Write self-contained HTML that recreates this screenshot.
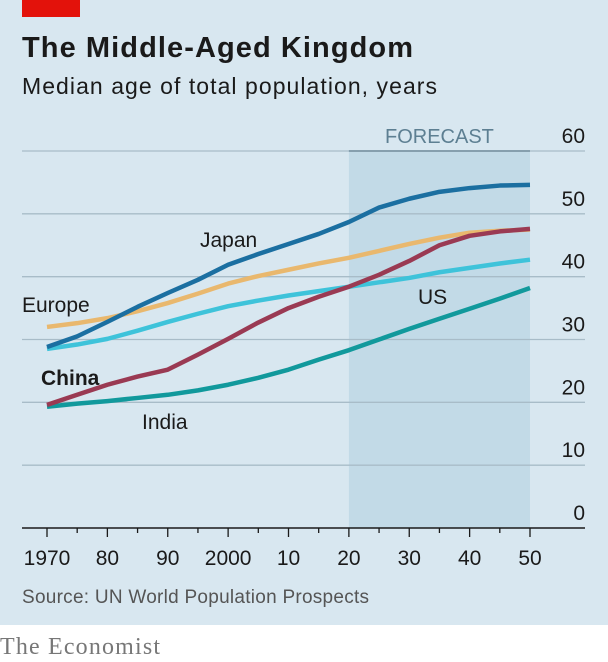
<!DOCTYPE html>
<html><head><meta charset="utf-8"><style>
body{margin:0;width:608px;height:662px;background:#fff;overflow:hidden;font-family:"Liberation Sans",sans-serif}
#bg{position:absolute;left:0;top:0;width:608px;height:625px;background:#d8e7f0}
</style></head><body>
<div id="bg"></div>
<svg id="c" width="608" height="662" style="position:absolute;left:0;top:0">
<rect x="22" y="0" width="58" height="17" fill="#e3120b"/>
<text x="22" y="57" font-size="29" font-weight="bold" fill="#1a1a1a" textLength="391">The Middle-Aged Kingdom</text>
<text x="22" y="94" font-size="23" fill="#1a1a1a" textLength="415">Median age of total population, years</text>
<text x="22" y="603" font-size="19" fill="#555" textLength="347">Source: UN World Population Prospects</text>
<text x="0" y="654" font-size="24" fill="#777" font-family="Liberation Serif,serif" textLength="160">The Economist</text>
<g id="g"></g>
</svg>
<script>
const years=[1970,1975,1980,1985,1990,1995,2000,2005,2010,2015,2020,2025,2030,2035,2040,2045,2050];
const japan=[28.8,30.5,32.8,35.2,37.4,39.5,41.9,43.6,45.2,46.8,48.7,51,52.4,53.5,54.1,54.5,54.6];
const europe=[32,32.6,33.4,34.5,35.8,37.3,38.9,40.1,41.1,42.1,43,44.1,45.2,46.2,47,47.3,47.5];
const us=[28.5,29.2,30.1,31.4,32.8,34.1,35.3,36.2,37,37.7,38.4,39.1,39.8,40.7,41.4,42.1,42.7];
const china=[19.6,21.2,22.8,24.1,25.2,27.6,30.1,32.7,35,36.8,38.4,40.3,42.5,45,46.5,47.2,47.6];
const india=[19.3,19.8,20.2,20.7,21.2,21.9,22.8,23.9,25.2,26.8,28.3,30,31.7,33.3,34.9,36.5,38.2];
const yTicks=[0,10,20,30,40,50,60];
const xTicks=[1970,1980,1990,2000,2010,2020,2030,2040,2050];
const xLabels=["1970","80","90","2000","10","20","30","40","50"];
const ns="http://www.w3.org/2000/svg",g=document.getElementById('g');
const X=y=>47+(y-1970)*(530-47)/80, Y=v=>528-v*(528-151)/60;
function mk(t,a){const e=document.createElementNS(ns,t);for(const k in a)e.setAttribute(k,a[k]);g.appendChild(e);return e;}
let r=mk('rect',{x:X(2020),y:Y(60),width:X(2050)-X(2020),height:Y(0)-Y(60),fill:'#c2dae7'});


let fl=mk('line',{x1:X(2020),x2:X(2050),y1:Y(60),y2:Y(60),stroke:'#4d6f84','stroke-width':2});


let ft=mk('text',{x:(X(2020)+X(2050))/2,y:143,'text-anchor':'middle','font-size':20,fill:'#5d7f92'});ft.textContent='FORECAST';


yTicks.forEach(v=>{
 if(v>0){let l=mk('line',{x1:22,x2:585,y1:Y(v),y2:Y(v),stroke:'#a8bcc8','stroke-width':1.3});
 
 }
 let t=mk('text',{x:585,y:Y(v)-8,'text-anchor':'end','font-size':21,fill:'#1a1a1a'});t.textContent=v;
 
 
});
let ax=mk('line',{x1:22,x2:585,y1:Y(0),y2:Y(0),stroke:'#1a1a1a','stroke-width':1.5});


for(let y=1970;y<=2050;y+=5){let tk=mk('line',{x1:X(y),x2:X(y),y1:Y(0),y2:Y(0)+(y%10?5:9),stroke:'#1a1a1a','stroke-width':1.3});
 
 }
xTicks.forEach((y,i)=>{let t=mk('text',{x:X(y),y:565,'text-anchor':'middle','font-size':21,fill:'#1a1a1a'});t.textContent=xLabels[i];
 
 });
const series=[["europe",europe,"#e9b86e"],["us",us,"#3ec3da"],["india",india,"#11999c"],["japan",japan,"#1b6fa1"],["china",china,"#9a3a53"]];
series.forEach(([n,d,c])=>{let p=mk('polyline',{points:d.map((v,i)=>X(years[i])+','+Y(v)).join(' '),fill:'none',stroke:c,'stroke-width':4.5,'stroke-linejoin':'round'});
 
 });
const labels=[["Japan",200,247,false],["Europe",22,312,false],["China",41,385,true],["India",142,429,false],["US",418,304,false]];
labels.forEach(([s,x,y,b])=>{let t=mk('text',{x:x,y:y,'font-size':21,fill:'#1a1a1a','font-weight':b?'bold':'normal'});t.textContent=s;
 
 });
</script>
</body></html>
